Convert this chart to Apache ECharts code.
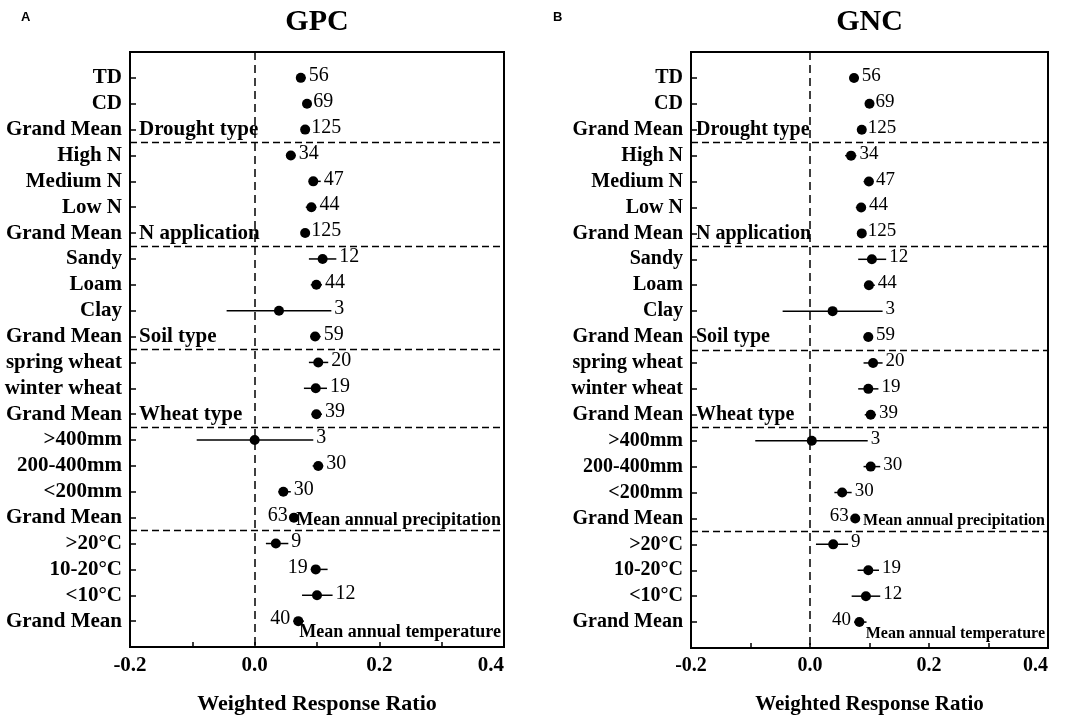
<!DOCTYPE html>
<html>
<head>
<meta charset="utf-8">
<script src="https://cdn.jsdelivr.net/npm/echarts@6/dist/echarts.min.js"></script>
<style>
  html, body { margin: 0; padding: 0; background: #fff; }
  #chart { width: 1084px; height: 720px; }
</style>
</head>
<body>
<div id="chart"></div>
<script>
// rows from top to bottom
const rowNames = ['TD', 'CD', 'Grand Mean', 'High N', 'Medium N', 'Low N', 'Grand Mean',
  'Sandy', 'Loam', 'Clay', 'Grand Mean', 'spring wheat', 'winter wheat', 'Grand Mean',
  '>400mm', '200-400mm', '<200mm', 'Grand Mean', '>20°C', '10-20°C', '<10°C', 'Grand Mean'];
const sampleSizes = [56, 69, 125, 34, 47, 44, 125, 12, 44, 3, 59, 20, 19, 39, 3, 30, 30, 63, 9, 19, 12, 40];

// GPC: mean and 95% CI
const gpcMean = [0.074, 0.084, 0.081, 0.058, 0.094, 0.091, 0.081, 0.109, 0.099, 0.039, 0.097,
  0.102, 0.098, 0.099, 0.000, 0.102, 0.046, 0.063, 0.034, 0.098, 0.100, 0.070];
const gpcLow = [0.067, 0.079, 0.076, 0.051, 0.087, 0.082, 0.076, 0.087, 0.090, -0.045, 0.089,
  0.087, 0.079, 0.091, -0.093, 0.093, 0.038, 0.058, 0.018, 0.090, 0.076, 0.062];
const gpcHigh = [0.082, 0.089, 0.086, 0.066, 0.106, 0.099, 0.086, 0.131, 0.108, 0.123, 0.106,
  0.118, 0.116, 0.108, 0.094, 0.110, 0.058, 0.068, 0.054, 0.117, 0.125, 0.079];

// GNC: mean and 95% CI
const gncMean = [0.074, 0.100, 0.087, 0.069, 0.099, 0.086, 0.087, 0.104, 0.099, 0.038, 0.098,
  0.106, 0.098, 0.102, 0.003, 0.102, 0.054, 0.076, 0.039, 0.098, 0.094, 0.083];
const gncLow = [0.067, 0.095, 0.082, 0.059, 0.090, 0.077, 0.082, 0.081, 0.091, -0.046, 0.090,
  0.090, 0.081, 0.092, -0.092, 0.090, 0.041, 0.070, 0.010, 0.080, 0.070, 0.074];
const gncHigh = [0.082, 0.105, 0.092, 0.078, 0.106, 0.094, 0.092, 0.128, 0.109, 0.122, 0.106,
  0.122, 0.115, 0.111, 0.097, 0.118, 0.070, 0.084, 0.064, 0.116, 0.118, 0.095];

// group separators and group captions
const groupBreaks = [3.5, 7.5, 11.5, 14.5, 18.5];
const groupTitles = ['Drought type', 'N application', 'Soil type', 'Wheat type',
  'Mean annual precipitation', 'Mean annual temperature'];
const groupRows = [3, 7, 11, 14, 18.1, 22.45];

const xTicks = [-0.2, 0.4, 0.2]; // min, max, interval

const SERIF = '"Liberation Serif", "Times New Roman", serif';

const panels = [
  { letter: 'A', title: 'GPC', mean: gpcMean, low: gpcLow, high: gpcHigh, leftLabels: [17, 19, 21],
    grid: { left: 130, right: 580, top: 52, height: 596 }, font: 21, smallFont: 18, capPad: 9 },
  { letter: 'B', title: 'GNC', mean: gncMean, low: gncLow, high: gncHigh, leftLabels: [17, 21],
    grid: { left: 691, right: 36, top: 52, height: 596 }, font: 20, smallFont: 16, capPad: 5 }
];

var myChart = echarts.init(document.getElementById('chart'));

const grids = [], xAxes = [], yAxes = [], series = [], graphics = [];

panels.forEach(function (p, k) {
  grids.push(Object.assign({ show: true, borderColor: '#000', borderWidth: 2 }, p.grid));

  xAxes.push({
    gridIndex: k, type: 'value', position: 'bottom', min: xTicks[0], max: xTicks[1], interval: xTicks[2],
    name: 'Weighted Response Ratio', nameLocation: 'middle', nameGap: 46,
    nameTextStyle: { fontFamily: SERIF, fontWeight: 'bold', fontSize: p.font + 1, color: '#000' },
    axisLine: { show: true, onZero: false, lineStyle: { color: '#000', width: 2 } },
    axisTick: { show: true, inside: true, length: 5, lineStyle: { color: '#000', width: 1.5 } },
    minorTick: { show: true, splitNumber: 2, length: 5, lineStyle: { color: '#000', width: 1.5 } },
    splitLine: { show: false },
    axisLabel: {
      fontFamily: SERIF, fontWeight: 'bold', fontSize: p.font, color: '#000', margin: 8,
      alignMaxLabel: 'right',
      formatter: function (v) { return v.toFixed(1); }
    }
  });

  yAxes.push({
    gridIndex: k, type: 'value', position: 'left', inverse: true, min: 0, max: rowNames.length + 1, interval: 1,
    axisLine: { show: true, onZero: false, lineStyle: { color: '#000', width: 2 } },
    axisTick: { show: true, inside: true, length: 6, lineStyle: { color: '#000', width: 1.5 } },
    splitLine: { show: false },
    axisLabel: {
      fontFamily: SERIF, fontWeight: 'bold', fontSize: p.font, color: '#000', margin: 8,
      formatter: function (v) { return rowNames[v - 1] || ''; }
    }
  });

  const pts = rowNames.map(function (name, i) {
    return [p.mean[i], p.low[i], p.high[i], i + 1, sampleSizes[i], p.leftLabels.indexOf(i) >= 0 ? 1 : 0];
  });

  series.push({
    type: 'custom', xAxisIndex: k, yAxisIndex: k, z: 5,
    data: pts,
    encode: { x: [0, 1, 2], y: 3 },
    renderItem: function (params, api) {
      const row = api.value(3);
      const c = api.coord([api.value(0), row]);
      const lo = api.coord([api.value(1), row]);
      const hi = api.coord([api.value(2), row]);
      const left = api.value(5) === 1;
      return {
        type: 'group',
        children: [
          { type: 'line', shape: { x1: lo[0], y1: c[1], x2: hi[0], y2: c[1] },
            style: { stroke: '#000', lineWidth: 1.5 } },
          { type: 'circle', shape: { cx: c[0], cy: c[1], r: 5 }, style: { fill: '#000' } },
          { type: 'text', style: {
              text: String(api.value(4)),
              x: left ? lo[0] - 3 : hi[0] + 3, y: c[1] - 2,
              align: left ? 'right' : 'left', verticalAlign: 'middle',
              font: p.font - 1 + 'px ' + SERIF, fill: '#000' } }
        ]
      };
    },
    markLine: {
      silent: true, symbol: ['none', 'none'], label: { show: false },
      data: groupBreaks.map(function (v) {
        return { yAxis: v, lineStyle: { color: '#000', width: 1.3, type: [7, 4] } };
      }).concat([{ xAxis: 0, lineStyle: { color: '#000', width: 1.5, type: [8, 5] } }])
    }
  });

  series.push({
    type: 'custom', xAxisIndex: k, yAxisIndex: k, z: 4,
    data: groupRows.map(function (r, i) { return [0, r, i]; }),
    encode: { x: 0, y: 1 },
    renderItem: function (params, api) {
      const i = api.value(2);
      const y = api.coord([0, api.value(1)])[1];
      const cs = params.coordSys;
      const right = i >= 4;
      return {
        type: 'text',
        style: {
          text: groupTitles[i],
          x: right ? cs.x + cs.width - 3 : cs.x + p.capPad, y: y,
          align: right ? 'right' : 'left', verticalAlign: 'middle',
          font: 'bold ' + (right ? p.smallFont : p.font) + 'px ' + SERIF, fill: '#000'
        }
      };
    }
  });

  const gx = p.grid.left;
  const gw = 1084 - p.grid.left - p.grid.right;
  graphics.push({
    type: 'text', x: gx + gw / 2, y: 7,
    style: { text: p.title, font: 'bold 30px ' + SERIF, fill: '#000', align: 'center', verticalAlign: 'top' }
  });
  graphics.push({
    type: 'text', x: k === 0 ? 21 : 553, y: 11,
    style: { text: p.letter, font: 'bold 13px "Liberation Sans", Arial, sans-serif', fill: '#000' }
  });
});

const option = {
  backgroundColor: '#fff',
  animation: false,
  grid: grids,
  xAxis: xAxes,
  yAxis: yAxes,
  series: series,
  graphic: graphics
};

myChart.setOption(option);
</script>
</body>
</html>
